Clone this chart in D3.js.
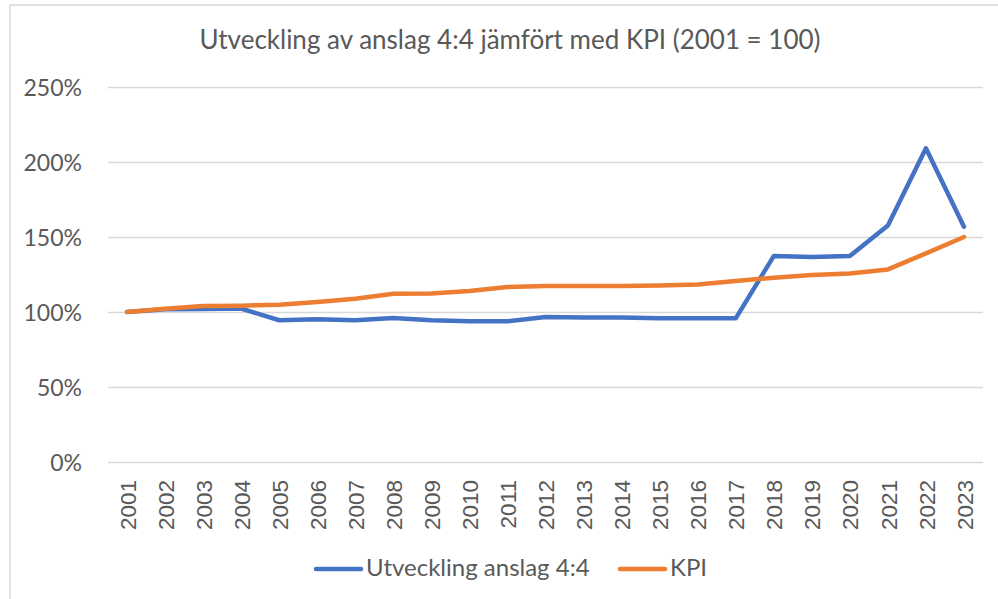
<!DOCTYPE html>
<html>
<head>
<meta charset="utf-8">
<script src="https://cdn.jsdelivr.net/npm/d3@7"></script>
<style>
  body { margin: 0; background: #fff; }
  svg { display: block; }
  .tick text { fill: #595959; }
</style>
</head>
<body>
<svg id="chart"></svg>
<script>
var w = 998;
var h = 599;

// data
var years = ["2001","2002","2003","2004","2005","2006","2007","2008","2009","2010","2011","2012",
             "2013","2014","2015","2016","2017","2018","2019","2020","2021","2022","2023"];
var anslag = [100, 101.8, 102, 102.3, 94.5, 95.1, 94.5, 96, 94.5, 93.8, 93.8, 96.6,
              96.4, 96.4, 95.8, 95.8, 95.8, 137.3, 136.6, 137.3, 157.6, 209.1, 156.9];
var kpi = [100, 102.1, 104, 104.2, 104.9, 106.7, 108.9, 112.2, 112.4, 114, 116.7, 117.4,
           117.3, 117.3, 117.6, 118.4, 120.6, 122.9, 124.7, 125.6, 128.4, 139.1, 150];
var yTicks = [0, 50, 100, 150, 200, 250];
var seriesNames = ["Utveckling anslag 4:4", "KPI"];
var colors = ["#4472c4", "#ed7d31"];

var plotLeft = 108, plotRight = 983, plotTop = 87, plotBottom = 462;

let svg = d3.select("#chart")
    .attr("width", w)
    .attr("height", h);

// outer frame (only top and left visible in the crop)
svg.append("path")
    .attr("d", `M10,${h} L10,5 L${w},5`)
    .attr("fill", "none")
    .attr("stroke", "#d9d9d9")
    .attr("stroke-width", 1.5);

let xScale = d3.scalePoint()
    .domain(years)
    .range([plotLeft, plotRight])
    .padding(0.5);

let yScale = d3.scaleLinear()
    .domain([0, 250])
    .range([plotBottom, plotTop]);

// gridlines
let grid = svg.append("g")
    .attr("transform", `translate(${plotLeft}, 0)`)
    .call(d3.axisLeft(yScale).tickValues(yTicks).tickSize(-(plotRight - plotLeft)).tickFormat(""));
grid.select(".domain").remove();
grid.selectAll("line").attr("stroke", "#d9d9d9").attr("stroke-width", 1.5);

// y labels
let yAxis = svg.append("g")
    .attr("transform", `translate(82, 0)`)
    .call(d3.axisLeft(yScale).tickValues(yTicks).tickSize(0).tickPadding(0).tickFormat(d => d + "%"));
yAxis.select(".domain").remove();
yAxis.selectAll("text")
    .style("font-family", "Lato")
    .style("font-size", "23px")
    .attr("dy", "0.36em");

// x labels rotated
let xAxis = svg.append("g")
    .attr("transform", `translate(0, ${plotBottom})`)
    .call(d3.axisBottom(xScale).tickSize(0));
xAxis.select(".domain").remove();
xAxis.selectAll("text")
    .style("font-family", "Liberation Sans")
    .style("font-size", "22.5px")
    .attr("text-anchor", "end")
    .attr("transform", "rotate(-90)")
    .attr("x", -18)
    .attr("y", 0)
    .attr("dy", "0.36em");

// lines
let line = d3.line()
    .x((d, i) => xScale(years[i]))
    .y(d => yScale(d));

[anslag, kpi].forEach((s, i) => {
    svg.append("path")
        .datum(s)
        .attr("d", line)
        .attr("fill", "none")
        .attr("stroke", colors[i])
        .attr("stroke-width", 4.5)
        .attr("stroke-linejoin", "round")
        .attr("stroke-linecap", "round");
});

// title
svg.append("text")
    .attr("x", 510)
    .attr("y", 49)
    .attr("text-anchor", "middle")
    .style("font-family", "Lato")
    .style("font-size", "26px")
    .attr("fill", "#595959")
    .text("Utveckling av anslag 4:4 jämfört med KPI (2001 = 100)");

// legend
let legendX = [316, 620];
let legend = svg.selectAll(".legend")
    .data(seriesNames)
    .enter()
    .append("g")
    .attr("class", "legend")
    .attr("transform", (d, i) => `translate(${legendX[i]}, 569)`);
legend.append("line")
    .attr("x1", 0).attr("x2", 45)
    .attr("stroke", (d, i) => colors[i])
    .attr("stroke-width", 4.5)
    .attr("stroke-linecap", "round");
legend.append("text")
    .attr("x", 50)
    .attr("y", 7)
    .style("font-family", "Lato")
    .style("font-size", "24px")
    .attr("fill", "#595959")
    .text(d => d);
</script>
</body>
</html>
